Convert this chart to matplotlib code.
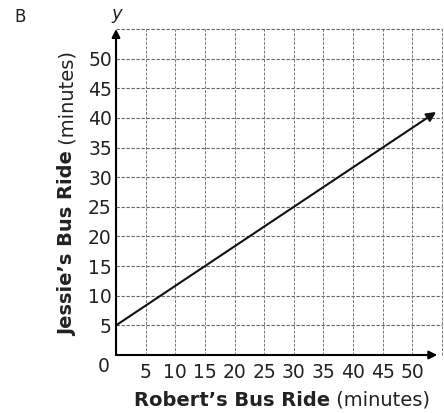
import numpy as np
import matplotlib.pyplot as plt

plt.rcParams['font.family'] = ['DejaVu Sans']

# Data
x_ticks = [5, 10, 15, 20, 25, 30, 35, 40, 45, 50]
y_ticks = [5, 10, 15, 20, 25, 30, 35, 40, 45, 50]
line_x = [0, 54]
line_y = [5, 41]

fig = plt.figure(figsize=(4.44, 4.13), dpi=100)
ax = fig.add_axes([0.2613, 0.1404, 0.7342, 0.7894])
ax.set_xlim(0, 55)
ax.set_ylim(0, 55)

# grid
for v in range(5, 60, 5):
    ax.axvline(v, color='#777777', lw=0.7, ls=(0, (3, 1.5)), zorder=1, clip_on=False)
    ax.axhline(v, color='#666666', lw=0.8, ls=(0, (3, 1.5)), zorder=1, clip_on=False)

for s in ax.spines.values():
    s.set_visible(False)

ax.set_xticks(x_ticks)
ax.set_yticks(y_ticks)
ax.tick_params(length=0, labelsize=13.5, colors='#222222')
ax.tick_params(axis='x', pad=6)
ax.tick_params(axis='y', pad=3)
ax.text(-1.0, -0.3, '0', fontsize=13.5, ha='right', va='top', color='#222222')

# axes with arrows
arrow = dict(arrowstyle='-|>', color='black', lw=1.5, mutation_scale=12, shrinkA=0, shrinkB=0)
ax.annotate('', xy=(0, 55), xytext=(0, 0), arrowprops=arrow, annotation_clip=False)
ax.annotate('', xy=(54.2, 0), xytext=(0, 0), arrowprops=arrow, annotation_clip=False)

# the line
ax.annotate('', xy=(line_x[1], line_y[1]), xytext=(line_x[0], line_y[0]),
            arrowprops=dict(arrowstyle='-|>', color='#111111', lw=1.5, mutation_scale=14,
                            shrinkA=0, shrinkB=0), zorder=4)

# labels
xb = fig.text(134 / 444, 1 - 406 / 413, "Robert’s Bus Ride", fontsize=14, fontweight='bold',
              ha='left', va='baseline', color='#222222')
ax.annotate(" (minutes)", xy=(1, 1 - 406 / 413), xycoords=(xb, 'figure fraction'),
            fontsize=14, ha='left', va='baseline', color='#222222')

yb = fig.text(73 / 444, 1 - 336 / 413, "Jessie’s Bus Ride", fontsize=14, fontweight='bold',
              rotation=90, rotation_mode='anchor', ha='left', va='baseline', color='#222222')
ax.annotate(" (minutes)", xy=(73 / 444, 1), xycoords=('figure fraction', yb),
            fontsize=14, rotation=90, rotation_mode='anchor', ha='left', va='baseline',
            color='#222222')

fig.text(20 / 444, 1 - 17 / 413, 'B', fontsize=12, ha='center', va='center', color='#222222')
fig.text(117 / 444, 1 - 14 / 413, 'y', fontsize=13, style='italic', ha='center', va='center',
         color='#222222')

fig.savefig('out.png', dpi=100, facecolor='white')
